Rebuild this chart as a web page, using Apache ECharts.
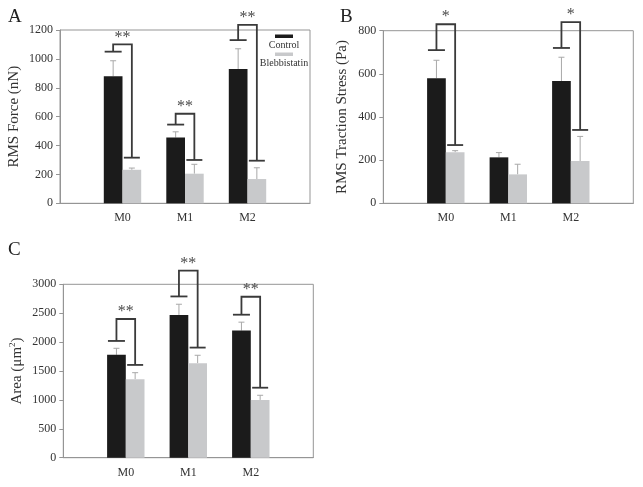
<!DOCTYPE html>
<html>
<head>
<meta charset="utf-8">
<script src="https://cdn.jsdelivr.net/npm/echarts@6/dist/echarts.min.js"></script>
<style>
html,body{margin:0;padding:0;background:#fff;}
#chart{width:643px;height:487px;}
</style>
</head>
<body>
<div id="chart"></div>
<script>
// ---- data ----
const categories = ['M0', 'M1', 'M2'];
const seriesNames = ['Control', 'Blebbistatin'];

// Panel A: RMS Force (nN)
const forceControl = [880, 455, 930];
const forceControlSD = [107, 40, 140];
const forceBleb = [232, 205, 168];
const forceBlebSD = [12, 65, 78];
const forceSigControlCap = [1050, 545, 1130];
const forceSigTop = [1100, 620, 1235];
const forceSigBlebCap = [316, 300, 295];
const forceSigLabel = ['**', '**', '**'];
const forceTicks = {min: 0, max: 1200, interval: 200};

// Panel B: RMS Traction Stress (Pa)
const stressControl = [580, 213, 567];
const stressControlSD = [83, 22, 110];
const stressBleb = [237, 134, 196];
const stressBlebSD = [7, 47, 114];
const stressSigControlCap = [710, null, 720];
const stressSigTop = [830, null, 840];
const stressSigBlebCap = [270, null, 340];
const stressSigLabel = ['*', '', '*'];
const stressTicks = {min: 0, max: 800, interval: 200};

// Panel C: Area (um^2)
const areaControl = [1780, 2470, 2200];
const areaControlSD = [113, 185, 145];
const areaBleb = [1358, 1635, 1000];
const areaBlebSD = [113, 137, 80];
const areaSigControlCap = [2020, 2790, 2474];
const areaSigTop = [2400, 3235, 2785];
const areaSigBlebCap = [1605, 1905, 1211];
const areaSigLabel = ['**', '**', '**'];
const areaTicks = {min: 0, max: 3000, interval: 500};

// ---- styling ----
const SERIF = "'Liberation Serif', 'Times New Roman', serif";
const BW = 18.7;
const C_BLACK = '#1b1b1b';
const C_GRAY = '#c8c9cb';
const C_AXIS = '#959595';
const C_TEXT = '#333';

const panels = [
  {grid: {left: 60, top: 30, width: 250, height: 173.3}, ticks: forceTicks,
   name: 'RMS Force (nN)', nameGap: 38,
   ctrl: forceControl, ctrlSD: forceControlSD, bleb: forceBleb, blebSD: forceBlebSD,
   capC: forceSigControlCap, top: forceSigTop, capB: forceSigBlebCap, lab: forceSigLabel},
  {grid: {left: 383.3, top: 30.7, width: 250, height: 172.6}, ticks: stressTicks,
   name: 'RMS Traction Stress (Pa)', nameGap: 34,
   ctrl: stressControl, ctrlSD: stressControlSD, bleb: stressBleb, blebSD: stressBlebSD,
   capC: stressSigControlCap, top: stressSigTop, capB: stressSigBlebCap, lab: stressSigLabel},
  {grid: {left: 63.3, top: 284.3, width: 250, height: 173.4}, ticks: areaTicks,
   name: 'Area (μm{sup|2})', nameGap: 38,
   ctrl: areaControl, ctrlSD: areaControlSD, bleb: areaBleb, blebSD: areaBlebSD,
   capC: areaSigControlCap, top: areaSigTop, capB: areaSigBlebCap, lab: areaSigLabel}
];

const xCats = [''].concat(categories, ['']);
const grid = [], xAxis = [], yAxis = [], series = [];

panels.forEach((p, gi) => {
  grid.push(Object.assign({show: true, borderColor: C_AXIS, borderWidth: 1, backgroundColor: 'transparent'}, p.grid));
  xAxis.push({
    type: 'category', gridIndex: gi, data: xCats, boundaryGap: false,
    axisTick: {show: false},
    axisLine: {lineStyle: {color: C_AXIS, width: 1}},
    axisLabel: {interval: 0, fontFamily: SERIF, fontSize: 12, color: C_TEXT, margin: 9},
    splitLine: {show: false}
  });
  yAxis.push({
    type: 'value', gridIndex: gi, min: p.ticks.min, max: p.ticks.max, interval: p.ticks.interval,
    name: p.name, nameLocation: 'middle', nameRotate: 90, nameGap: p.nameGap,
    nameTextStyle: {fontFamily: SERIF, fontSize: 15, color: C_TEXT,
      rich: {sup: {fontFamily: SERIF, fontSize: 9, color: C_TEXT, verticalAlign: 'top', padding: [0, 0, 8, 0]}}},
    axisLine: {show: true, lineStyle: {color: C_AXIS, width: 1}},
    axisTick: {show: true, inside: false, length: 4, lineStyle: {color: C_AXIS}},
    axisLabel: {fontFamily: SERIF, fontSize: 12, color: C_TEXT, margin: 7,
      formatter: v => String(v)},
    splitLine: {show: false}
  });
  const pad = v => ['-'].concat(v, ['-']);
  series.push({
    name: seriesNames[0], type: 'bar', xAxisIndex: gi, yAxisIndex: gi,
    data: pad(p.ctrl), barWidth: BW, barGap: '0%', itemStyle: {color: C_BLACK}, z: 2, silent: true
  });
  series.push({
    name: seriesNames[1], type: 'bar', xAxisIndex: gi, yAxisIndex: gi,
    data: pad(p.bleb), barWidth: BW, barGap: '0%', itemStyle: {color: C_GRAY}, z: 2, silent: true
  });
  // error bars (upper half only)
  const errData = [];
  categories.forEach((c, i) => {
    errData.push([i + 1, p.ctrl[i], p.ctrl[i] + p.ctrlSD[i], -1]);
    errData.push([i + 1, p.bleb[i], p.bleb[i] + p.blebSD[i], 1]);
  });
  series.push({
    type: 'custom', xAxisIndex: gi, yAxisIndex: gi, data: errData, z: 1, silent: true, clip: false,
    renderItem: function (params, api) {
      const a = api.coord([api.value(0), api.value(1)]);
      const b = api.coord([api.value(0), api.value(2)]);
      const x = a[0] + api.value(3) * BW / 2;
      const st = {stroke: '#a8a8a8', lineWidth: 1};
      return {type: 'group', children: [
        {type: 'line', shape: {x1: x, y1: a[1], x2: x, y2: b[1]}, style: st},
        {type: 'line', shape: {x1: x - 3, y1: b[1], x2: x + 3, y2: b[1]}, style: st}
      ]};
    }
  });
  // significance brackets
  const sigData = [];
  const sigLabels = [];
  categories.forEach((c, i) => {
    if (p.top[i] != null) {
      sigData.push([i + 1, p.capC[i], p.top[i], p.capB[i]]);
      sigLabels.push(p.lab[i]);
    }
  });
  series.push({
    type: 'custom', xAxisIndex: gi, yAxisIndex: gi, data: sigData, z: 5, silent: true, clip: false,
    renderItem: function (params, api) {
      const cx = api.coord([api.value(0), 0])[0];
      const yC = api.coord([api.value(0), api.value(1)])[1];
      const yT = api.coord([api.value(0), api.value(2)])[1];
      const yB = api.coord([api.value(0), api.value(3)])[1];
      const bc = cx - BW / 2, gc = cx + BW / 2;
      const st = {stroke: '#3a3a3a', lineWidth: 1.8, fill: null};
      return {type: 'group', children: [
        {type: 'polyline', shape: {points: [[bc, yC], [bc, yT], [gc, yT], [gc, yB]]}, style: st},
        {type: 'line', shape: {x1: bc - 8.5, y1: yC, x2: bc + 8.5, y2: yC}, style: st},
        {type: 'line', shape: {x1: gc - 8, y1: yB, x2: gc + 8, y2: yB}, style: st},
        {type: 'text', x: cx, y: yT + 1, style: {text: sigLabels[params.dataIndex], fontFamily: SERIF,
          fontSize: 16, fill: '#4a4a4a', align: 'center', verticalAlign: 'bottom'}}
      ]};
    }
  });
});

const chart = echarts.init(document.getElementById('chart'), null, {renderer: 'canvas'});
chart.setOption({
  backgroundColor: '#fff',
  animation: false,
  grid: grid, xAxis: xAxis, yAxis: yAxis, series: series,
  graphic: [
    {type: 'text', left: 8, top: 8, style: {text: 'A', fontFamily: SERIF, fontSize: 19, fill: '#222'}},
    {type: 'text', left: 340, top: 8, style: {text: 'B', fontFamily: SERIF, fontSize: 19, fill: '#222'}},
    {type: 'text', left: 8, top: 241, style: {text: 'C', fontFamily: SERIF, fontSize: 19, fill: '#222'}},
    {type: 'rect', shape: {x: 275, y: 34.5, width: 18, height: 3.5}, style: {fill: C_BLACK}},
    {type: 'text', x: 284, y: 45, style: {text: seriesNames[0], fontFamily: SERIF, fontSize: 10, fill: C_TEXT, align: 'center', verticalAlign: 'middle'}},
    {type: 'rect', shape: {x: 275, y: 52.5, width: 18, height: 3.5}, style: {fill: C_GRAY}},
    {type: 'text', x: 284, y: 63, style: {text: seriesNames[1], fontFamily: SERIF, fontSize: 10, fill: C_TEXT, align: 'center', verticalAlign: 'middle'}}
  ]
});
</script>
</body>
</html>
